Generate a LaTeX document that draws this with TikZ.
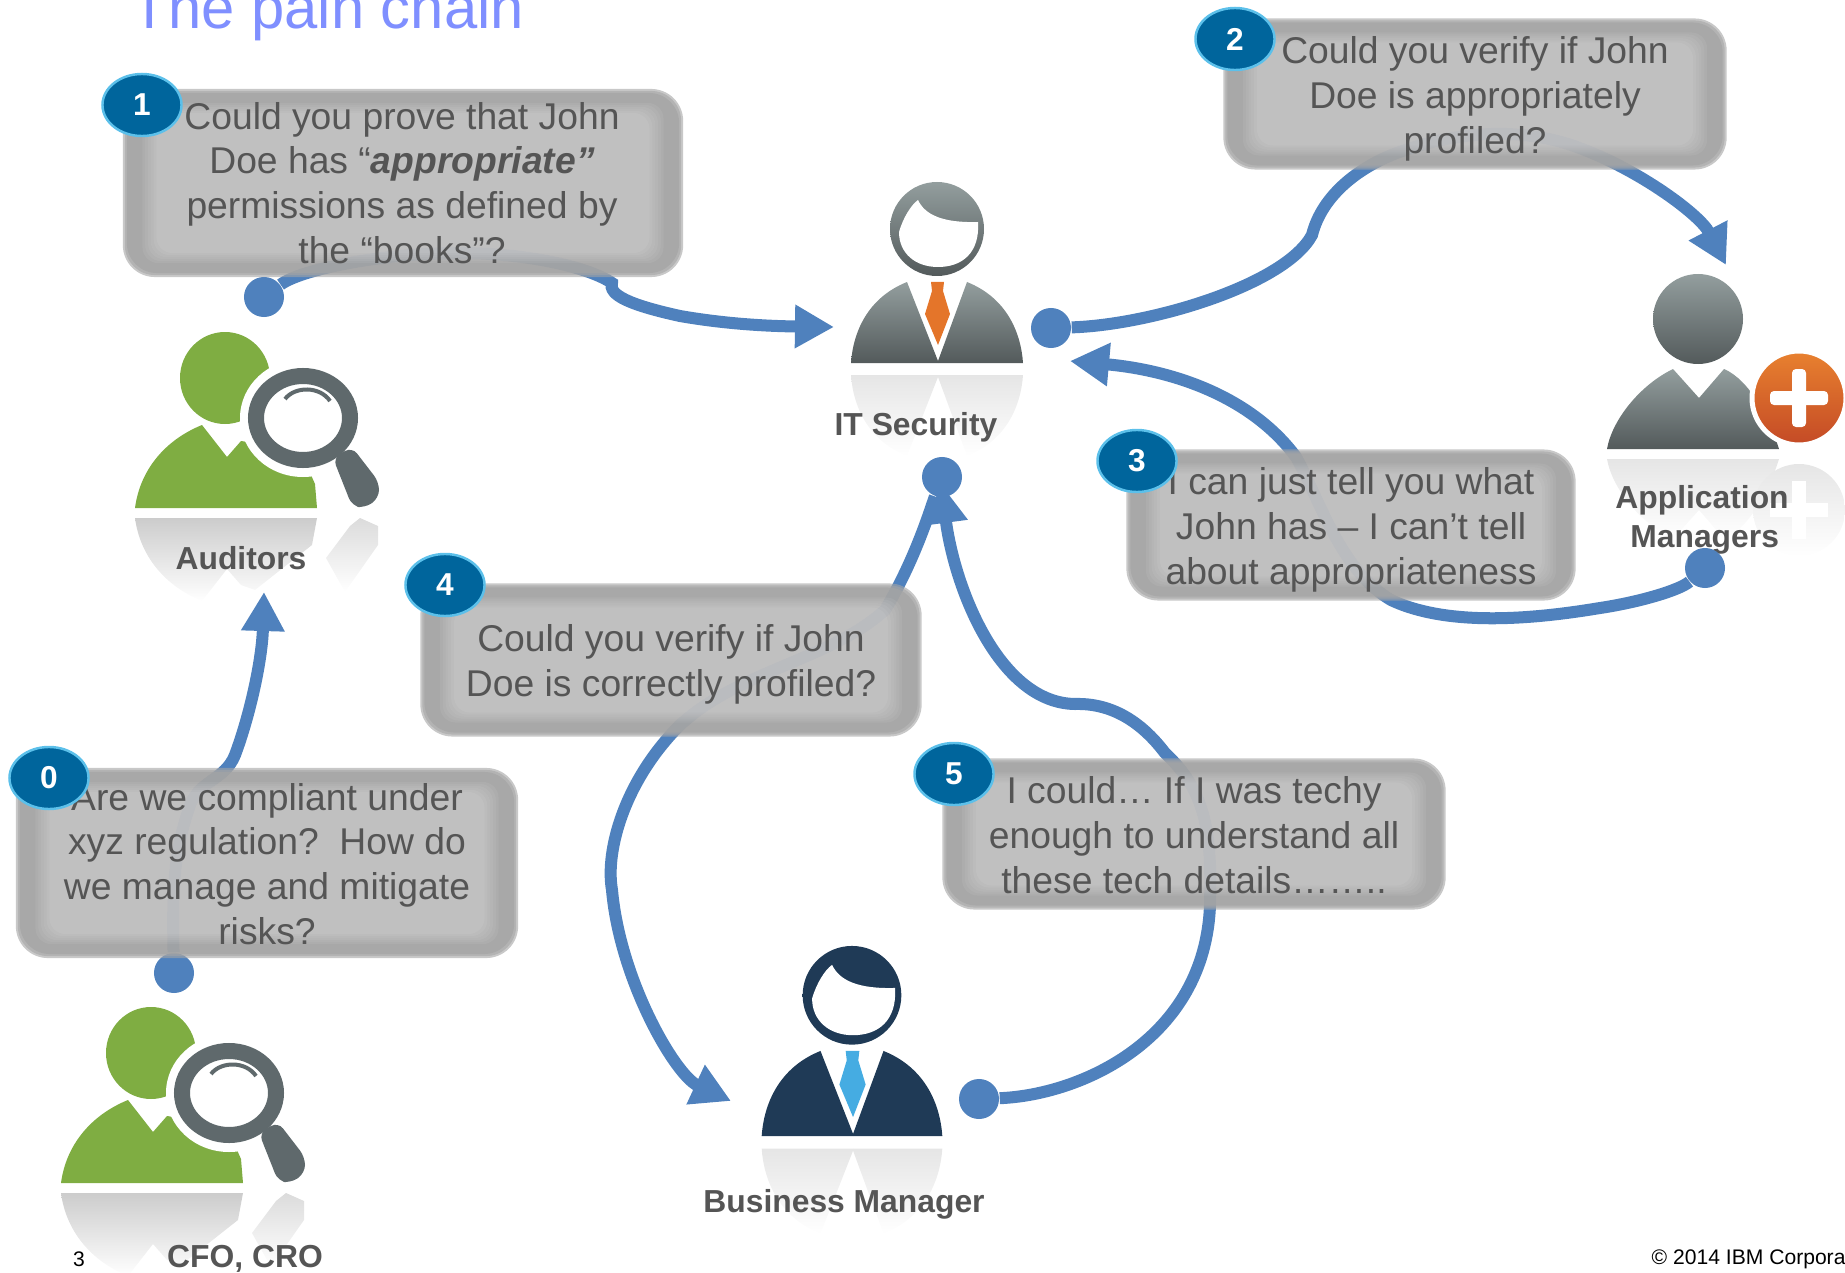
\documentclass[tikz,border=0pt]{standalone}
\usepackage{fontspec}
\setmainfont{Liberation Sans}
\usetikzlibrary{arrows.meta,shapes.geometric}

\definecolor{flowblue}{HTML}{4F81BD}
\definecolor{bubrim}{HTML}{A4A4A4}
\definecolor{bubtext}{HTML}{555555}
\definecolor{badgeblue}{HTML}{00659C}
\definecolor{badgeline}{HTML}{5CC0EA}
\definecolor{seekgreen}{HTML}{7FAD42}
\definecolor{lensgray}{HTML}{5F696C}
\definecolor{steeltop}{HTML}{939E9E}
\definecolor{steelbot}{HTML}{535A5B}
\definecolor{navy}{HTML}{1F3A56}
\definecolor{tieorange}{HTML}{E4752A}
\definecolor{tieblue}{HTML}{45ACE2}
\definecolor{plustop}{HTML}{E8812F}
\definecolor{plusbot}{HTML}{C44A26}
\definecolor{titleblue}{HTML}{7F8FFF}

\newcommand{\bubblefont}{\fontsize{10.6}{12.75}\selectfont}
\newcommand{\rolefont}{\fontsize{9.05}{10.8}\selectfont\bfseries}

\tikzset{
  bubble/.style={rectangle, rounded corners=0.32cm, fill=bubrim, fill opacity=.6, inner sep=0pt,
    path picture={
      \foreach \d/\o in {2/.6,4/.7}
        \fill[bubrim, fill opacity=\o, rounded corners=0.3cm]
          ([shift={(\d,\d)}]path picture bounding box.north west) rectangle
          ([shift={(-\d,-\d)}]path picture bounding box.south east);
      \foreach \d in {14,16,...,24}
        \fill[white, fill opacity=.058, rounded corners=0.16cm]
          ([shift={(1.4*\d,\d)}]path picture bounding box.north west) rectangle
          ([shift={(-1.4*\d,-\d)}]path picture bounding box.south east);
    }},
  bubtxt/.style={text=bubtext, align=center, inner sep=0pt, font=\bubblefont},
  badge/.style={ellipse, fill=badgeblue, draw=badgeline, line width=0.7pt, text=white,
    minimum width=0.79cm, minimum height=0.62cm, inner sep=0pt,
    font=\fontsize{9}{10}\selectfont\bfseries},
  dot/.style={circle, fill=flowblue, minimum size=0.4cm, inner sep=0pt},
  flow/.style={draw=flowblue, line width=0.12cm, -{Triangle[length=0.39cm,width=0.41cm]}},
  role/.style={text=bubtext, align=center, inner sep=0pt, font=\rolefont},
  pics/suit/.style n args={3}{code={
    %head
    \shade[top color=#1, bottom color=#2] (0,-134) ellipse (47 and 47);
    \fill[white] (-38,-131) .. controls (-34,-145) and (-26,-158) .. (-19,-163)
      .. controls (-12,-148) and (6,-140) .. (41,-141)
      .. controls (43,-110) and (25,-96) .. (1,-96)
      .. controls (-22,-96) and (-38,-110) .. (-38,-131) -- cycle;
    %jacket
    \shade[top color=#1, bottom color=#2] (-86,0) .. controls (-84,-30) and (-70,-65) .. (-30,-81) -- (1,-2) -- (1,0) -- cycle;
    \shade[top color=#1, bottom color=#2] (86,0) .. controls (84,-30) and (70,-65) .. (30,-81) -- (1,-2) -- (1,0) -- cycle;
    %tie
    \fill[#3] (-6,-81) -- (7,-81) -- (6,-72) -- (13,-49) -- (1,-18) -- (-12,-49) -- (-5,-72) -- cycle;
    %reflection
    \shade[top color=black!10, middle color=white!98!black, bottom color=white]
      (-86,12) .. controls (-84,42) and (-70,77) .. (-30,93) -- (1,14) -- (1,12) -- cycle;
    \shade[top color=black!10, middle color=white!98!black, bottom color=white]
      (86,12) .. controls (84,42) and (70,77) .. (30,93) -- (1,14) -- (1,12) -- cycle;
  }},
  pics/seeker/.style={code={
    %person
    \fill[seekgreen] (225,378) ellipse (45 and 46);
    \fill[seekgreen] (135,508) .. controls (140,470) and (165,440) .. (202,425) -- (227,457) -- (241,441)
      -- (300,450) -- (315,484) -- (317,508) -- cycle;
    %magnifier
    \fill[white] (330,440) -- (356,437) -- (386,478) -- (385,508) -- (321,508) -- (318,478) -- cycle;
    \fill[white] (303,418) ellipse (63 and 59);
    \fill[lensgray, rounded corners=0.08cm] (333,458) -- (352,447) -- (379,482) -- (379,498) -- (365,508) -- (352,506) -- cycle;
    \draw[lensgray, line width=0.16cm, fill=white] (303,418) ellipse (47 and 42);
    \draw[lensgray, line width=0.04cm] (285,399) .. controls (295,386) and (320,386) .. (330,401);
    %reflection
    \shade[top color=black!20, middle color=white!95!black, bottom color=white]
      (135,518) .. controls (140,556) and (165,586) .. (202,601) -- (227,569) -- (241,585) -- (255,590)
      -- (312,545) -- (317,518) -- cycle;
    \shade[top color=black!14, middle color=white!96!black, bottom color=white]
      (378,526) -- (360,518) -- (350,526) -- (326,558) -- (345,592) -- (378,545) -- cycle;
  }}
}

\begin{document}
\begin{tikzpicture}[x=0.01cm,y=-0.01cm]
    \useasboundingbox (0,0) rectangle (1845,1273);

    %title and footer
    \node[anchor=base west, inner sep=0pt, text=titleblue, font=\fontsize{17}{18}\selectfont] (title) at (131,29) {The pain chain};
    \node[inner sep=0pt, font=\fontsize{6}{7}\selectfont] (pagenum) at (79,1259) {3};
    \node[anchor=west, inner sep=0pt, font=\fontsize{6}{7}\selectfont] (copyright) at (1651,1259) {© 2014 IBM Corporation};

    %people
    \pic at (0,0) {seeker};
    \pic at (-74,675) {seeker};
    \pic at (937,363) {suit={steeltop}{steelbot}{tieorange}};
    \pic[scale=1.05] at (852,1136) {suit={navy}{navy}{tieblue}};

    %application manager
    \shade[top color=steeltop, bottom color=steelbot] (1698,319) ellipse (45 and 45);
    \shade[top color=steeltop, bottom color=steelbot] (1607,449) .. controls (1612,420) and (1640,385) .. (1673,369) -- (1699,398) -- (1724,369) .. controls (1750,380) and (1770,420) .. (1779,449) -- cycle;
    \shade[top color=black!10, middle color=white!98!black, bottom color=white] (1607,459) .. controls (1612,488) and (1640,523) .. (1673,539) -- (1699,510) -- (1724,539) .. controls (1750,528) and (1770,488) .. (1779,459) -- cycle;
    \shade[top color=plustop, bottom color=plusbot, draw=white, line width=0.05cm] (1799,398) circle (47);
    \fill[white, rounded corners=0.04cm] (1770,391) rectangle (1828,405);
    \fill[white, rounded corners=0.04cm] (1792,369) rectangle (1806,427);
    \shade[top color=black!10, middle color=white!98!black, bottom color=white] (1799,510) circle (46);
    \fill[white] (1770,503) rectangle (1828,517);
    \fill[white] (1792,481) rectangle (1806,539);

    %roles
    \node[role] (auditors) at (241,558) {Auditors};
    \node[role] (cfo) at (245,1259) {CFO, CRO};
    \node[role] (itsec) at (916,427) {IT Security};
    \node[role] (business) at (844,1204) {Business Manager};
    \node[role] (appmgr) at (1702,520) {Application\\[0.2pt]\,Managers};

    %dots and arrow ends
    \node[dot] (dotzero) at (174,973) {};
    \node[dot] (dotone) at (264,297) {};
    \node[dot] (dottwo) at (1051,328) {};
    \node[dot] (dotthree) at (1705,568) {};
    \node[dot] (dotfour) at (942,477) {};
    \node[dot] (dotfive) at (979,1099) {};
    \coordinate (tipzero) at (264,592);
    \coordinate (tipone) at (834,327);
    \coordinate (tiptwo) at (1726,265);
    \coordinate (tipthree) at (1070,361);
    \coordinate (tipfour) at (731,1101);
    \coordinate (tipfive) at (941,484);

    %arrows
    \draw[flow] (dotzero) .. controls (172,880) and (175,850) .. (190,805) .. controls (200,780) and (225,780) .. (235,755) .. controls (250,715) and (262,660) .. (tipzero);
    \draw[flow] (dotone) .. controls (300,270) and (380,253) .. (459,253) .. controls (530,253) and (590,268) .. (612,283) .. controls (608,295) and (630,305) .. (680,316) .. controls (720,323) and (760,326) .. (tipone);
    \draw[flow] (dottwo) .. controls (1150,325) and (1285,285) .. (1312,235) .. controls (1322,195) and (1360,165) .. (1405,150) .. controls (1470,128) and (1530,130) .. (1577,147) .. controls (1640,170) and (1700,215) .. (tiptwo);
    \draw[flow] (dotthree) .. controls (1680,590) and (1640,602) .. (1600,608) .. controls (1540,618) and (1450,628) .. (1391,600) .. controls (1340,570) and (1320,500) .. (1296,457) .. controls (1250,395) and (1170,370) .. (tipthree);
    \draw[flow] (dotfour) .. controls (930,510) and (915,560) .. (885,610) .. controls (830,660) and (740,670) .. (680,725) .. controls (625,780) and (605,850) .. (612,890) .. controls (620,980) and (675,1075) .. (tipfour);
    \draw[flow] (dotfive) .. controls (1080,1095) and (1205,1040) .. (1210,905) .. controls (1212,830) and (1205,790) .. (1165,753) .. controls (1140,720) and (1110,703) .. (1075,704) .. controls (1000,703) and (955,590) .. (tipfive);

    %bubbles
    \node[bubble, minimum width=5.02cm, minimum height=1.9cm] (askzero) at (267,863) {};
    \node[bubble, minimum width=5.6cm, minimum height=1.88cm] (askone) at (403,183) {};
    \node[bubble, minimum width=5.03cm, minimum height=1.51cm] (asktwo) at (1475,94) {};
    \node[bubble, minimum width=4.49cm, minimum height=1.51cm] (askthree) at (1351,525) {};
    \node[bubble, minimum width=5.01cm, minimum height=1.53cm] (askfour) at (671,660) {};
    \node[bubble, minimum width=5.03cm, minimum height=1.51cm] (askfive) at (1194,834) {};

    %bubble texts
    \node[bubtxt] (textzero) at (267,864) {Are we compliant under\\xyz regulation?\ \ How do\\we manage and mitigate\\risks?};
    \node[bubtxt] (textone) at (402,183) {Could you prove that John\\Doe has “\textbf{\textit{appropriate”}}\\permissions as defined by\\the “books”?};
    \node[bubtxt] (texttwo) at (1475,99) {Could you verify if John\\Doe is appropriately\\profiled?};
    \node[bubtxt] (textthree) at (1351,530) {I can just tell you what\\John has – I can’t tell\\about appropriateness};
    \node[bubtxt] (textfour) at (671,664) {Could you verify if John\\Doe is correctly profiled?};
    \node[bubtxt] (textfive) at (1194,835) {I could… If I was techy\\enough to understand all\\these tech details……..};

    %badges
    \node[badge] (badgezero) at (49,778) {0};
    \node[badge] (badgeone) at (142,105) {1};
    \node[badge] (badgetwo) at (1235,39) {2};
    \node[badge] (badgethree) at (1137,461) {3};
    \node[badge] (badgefour) at (445,585) {4};
    \node[badge] (badgefive) at (954,774) {5};
\end{tikzpicture}
\end{document}
